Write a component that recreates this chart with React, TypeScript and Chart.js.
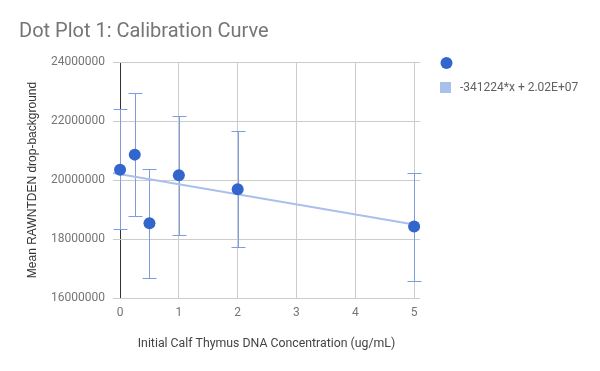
import React, { useEffect, useRef } from "react";
import { Chart, registerables } from "chart.js";

Chart.register(...registerables);

// ---- data ----
const concentrations = [0, 0.25, 0.5, 1, 2, 5];
const meanValues = [20350000, 20860000, 18530000, 20160000, 19690000, 18420000];
const errorUpper = [22400000, 22950000, 20380000, 22180000, 21670000, 20250000];
const errorLower = [18330000, 18780000, 16670000, 18150000, 17720000, 16580000];
const trendSlope = -341224;
const trendIntercept = 20200000;
const trendLabel = "-341224*x + 2.02E+07";
const xTickValues = [0, 1, 2, 3, 4, 5];
const yTickValues = [16000000, 18000000, 20000000, 22000000, 24000000];
const xRange = [-0.12, 5.1];
const chartTitle = "Dot Plot 1: Calibration Curve";
const xAxisTitle = "Initial Calf Thymus DNA Concentration (ug/mL)";
const yAxisTitle = "Mean RAWNTDEN drop-background";

const POINT_COLOR = "#3366cc";
const TREND_COLOR = "#a9bfec";
const ERROR_COLOR = "#7f9cdf";

const errorBarPlugin = {
  id: "errorBars",
  beforeDatasetsDraw(chart: any) {
    const { ctx, scales } = chart;
    const x = scales.x;
    const y = scales.y;
    ctx.save();
    ctx.strokeStyle = ERROR_COLOR;
    ctx.lineWidth = 1;
    concentrations.forEach((c, i) => {
      const px = Math.round(x.getPixelForValue(c)) + 0.5;
      const top = Math.round(y.getPixelForValue(errorUpper[i])) + 0.5;
      const bot = Math.round(y.getPixelForValue(errorLower[i])) + 0.5;
      ctx.beginPath();
      ctx.moveTo(px, top);
      ctx.lineTo(px, bot);
      ctx.moveTo(px - 7, top);
      ctx.lineTo(px + 7, top);
      ctx.moveTo(px - 7, bot);
      ctx.lineTo(px + 7, bot);
      ctx.stroke();
    });
    ctx.restore();
  },
};

const decorPlugin = {
  id: "decor",
  afterDraw(chart: any) {
    const { ctx } = chart;
    ctx.save();
    // title
    ctx.font = "20px Roboto";
    ctx.fillStyle = "#757575";
    ctx.textBaseline = "middle";
    ctx.textAlign = "left";
    ctx.fillText(chartTitle, 19, 32);
    // legend
    const ds = chart.data.datasets;
    ctx.fillStyle = ds[0].backgroundColor;
    ctx.beginPath();
    ctx.arc(446.5, 63, 6, 0, Math.PI * 2);
    ctx.fill();
    ctx.fillStyle = ds[1].borderColor;
    ctx.fillRect(440, 82, 11, 11);
    ctx.font = "12px Roboto";
    ctx.fillStyle = "#616161";
    ctx.fillText(ds[1].label, 460, 88);
    ctx.restore();
  },
};

export default function App() {
  const canvasRef = useRef<HTMLCanvasElement | null>(null);

  useEffect(() => {
    if (!canvasRef.current) return;
    const trendData = xRange.map((xv) => ({ x: xv, y: trendSlope * xv + trendIntercept }));
    const chart = new Chart(canvasRef.current, {
      type: "scatter",
      data: {
        datasets: [
          {
            label: "",
            data: concentrations.map((c, i) => ({ x: c, y: meanValues[i] })),
            backgroundColor: POINT_COLOR,
            borderColor: POINT_COLOR,
            pointRadius: 6,
            pointHoverRadius: 6,
            borderWidth: 0,
            order: 0,
          },
          {
            label: trendLabel,
            data: trendData,
            showLine: true,
            borderColor: TREND_COLOR,
            backgroundColor: TREND_COLOR,
            borderWidth: 2,
            pointRadius: 0,
            order: 1,
          } as any,
        ],
      },
      options: {
        responsive: false,
        animation: false,
        layout: { padding: { top: 62, right: 180, left: 0, bottom: 0 } },
        plugins: {
          legend: { display: false },
          title: { display: false },
          tooltip: { enabled: false },
        },
        scales: {
          x: {
            type: "linear",
            min: xRange[0],
            max: xRange[1],
            afterBuildTicks: (scale: any) => {
              scale.ticks = xTickValues.map((v) => ({ value: v }));
            },
            afterFit: (scale: any) => {
              scale.height = 73;
            },
            border: { display: false },
            grid: {
              color: (ctx: any) => (ctx.tick && ctx.tick.value === 0 ? "#333333" : "#cccccc"),
              drawTicks: false,
            },
            ticks: {
              padding: 8,
              color: "#757575",
              font: { family: "Roboto", size: 12 },
              maxRotation: 0,
              autoSkip: false,
            },
            title: {
              display: true,
              text: xAxisTitle,
              color: "#444444",
              font: { family: "Roboto", size: 12.3 },
              padding: { top: 4, bottom: 20 },
            },
          },
          y: {
            type: "linear",
            min: yTickValues[0],
            max: yTickValues[yTickValues.length - 1],
            afterBuildTicks: (scale: any) => {
              scale.ticks = yTickValues.map((v) => ({ value: v }));
            },
            afterFit: (scale: any) => {
              scale.width = 113;
            },
            border: { display: false },
            grid: { color: "#cccccc", drawTicks: false },
            ticks: {
              padding: 8,
              color: "#757575",
              font: { family: "Roboto", size: 12 },
              callback: (v: any) => String(v),
            },
            title: {
              display: true,
              text: yAxisTitle,
              color: "#333333",
              font: { family: "'Liberation Sans', Arial, sans-serif", size: 12 },
              padding: { top: 25, bottom: 4 },
            },
          },
        },
      },
      plugins: [errorBarPlugin, decorPlugin],
    });
    return () => chart.destroy();
  }, []);

  return (
    <div style={{ position: "fixed", left: 0, top: 0, width: 600, height: 371, background: "#ffffff" }}>
      <canvas ref={canvasRef} width={600} height={371} style={{ display: "block" }} />
    </div>
  );
}
